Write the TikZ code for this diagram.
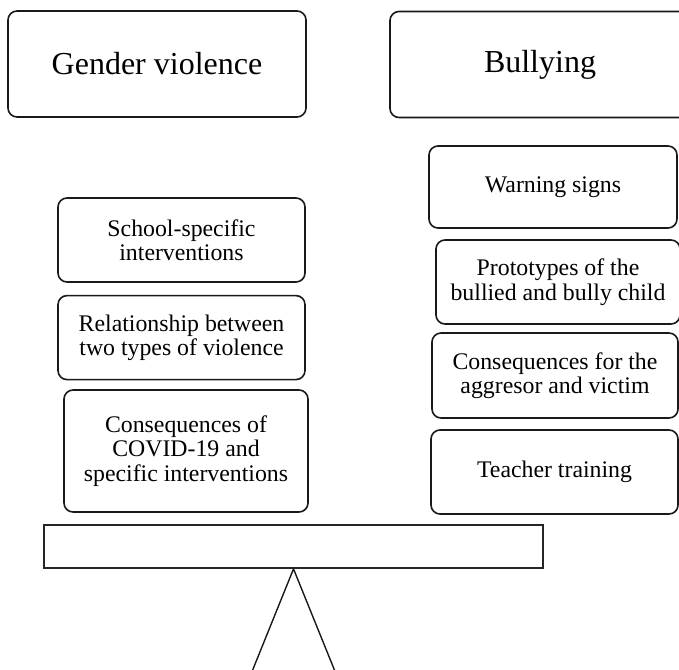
\documentclass[tikz,border=0pt]{standalone}
\usepackage{fontspec}
\setmainfont{Liberation Serif}
\usetikzlibrary{positioning}

\begin{document}
\begin{tikzpicture}[
    x=1pt, y=-1pt,
    box/.style={draw=black!90, line width=1.6pt, rounded corners=9pt, align=center, inner sep=2pt},
    topic/.style={box, minimum width=298pt, minimum height=106pt, font=\fontsize{32}{34}\selectfont},
    item/.style={box, minimum width=247pt, minimum height=84pt, font=\fontsize{23.8}{24.5}\selectfont},
    beam/.style={draw=black!85, line width=1.8pt, minimum width=499pt, minimum height=43pt},
    leg/.style={draw=black!90, line width=1.4pt}
]
\useasboundingbox (0,0) rectangle (679,669);

% --- Topics ---
\node[topic] (gv) at (157,64) {Gender violence};
\node[topic, minimum width=300pt] (bul) at (540,64.5) {Bullying};

% --- Gender violence ---
\node[item] (school) at (181.5,240) {School-specific\\interventions};
\node[item, below=12pt of school] (relation) {Relationship between\\two types of violence};
\node[item, minimum width=244pt, minimum height=122pt] (covid) at (186,451) {Consequences of\\COVID-19 and\\specific interventions};

% --- Bullying ---
\node[item, minimum width=248pt, minimum height=82pt] (warn) at (553,187) {Warning signs};
\node[item, minimum width=244pt] (proto) at (558,282) {Prototypes of the\\bullied and bully child};
\node[item, minimum width=246pt, minimum height=85pt] (conseq) at (555,375.5) {Consequences for the\\aggresor and victim};
\node[item] (teacher) at (554.5,472) {Teacher training};

% --- Balance ---
\node[beam] (beam) at (293.5,546.5) {};
\coordinate (footL) at (248.6,680);
\coordinate (footR) at (338.5,680);
\draw[leg] (footL) -- (beam.south) -- (footR);

\end{tikzpicture}
\end{document}
